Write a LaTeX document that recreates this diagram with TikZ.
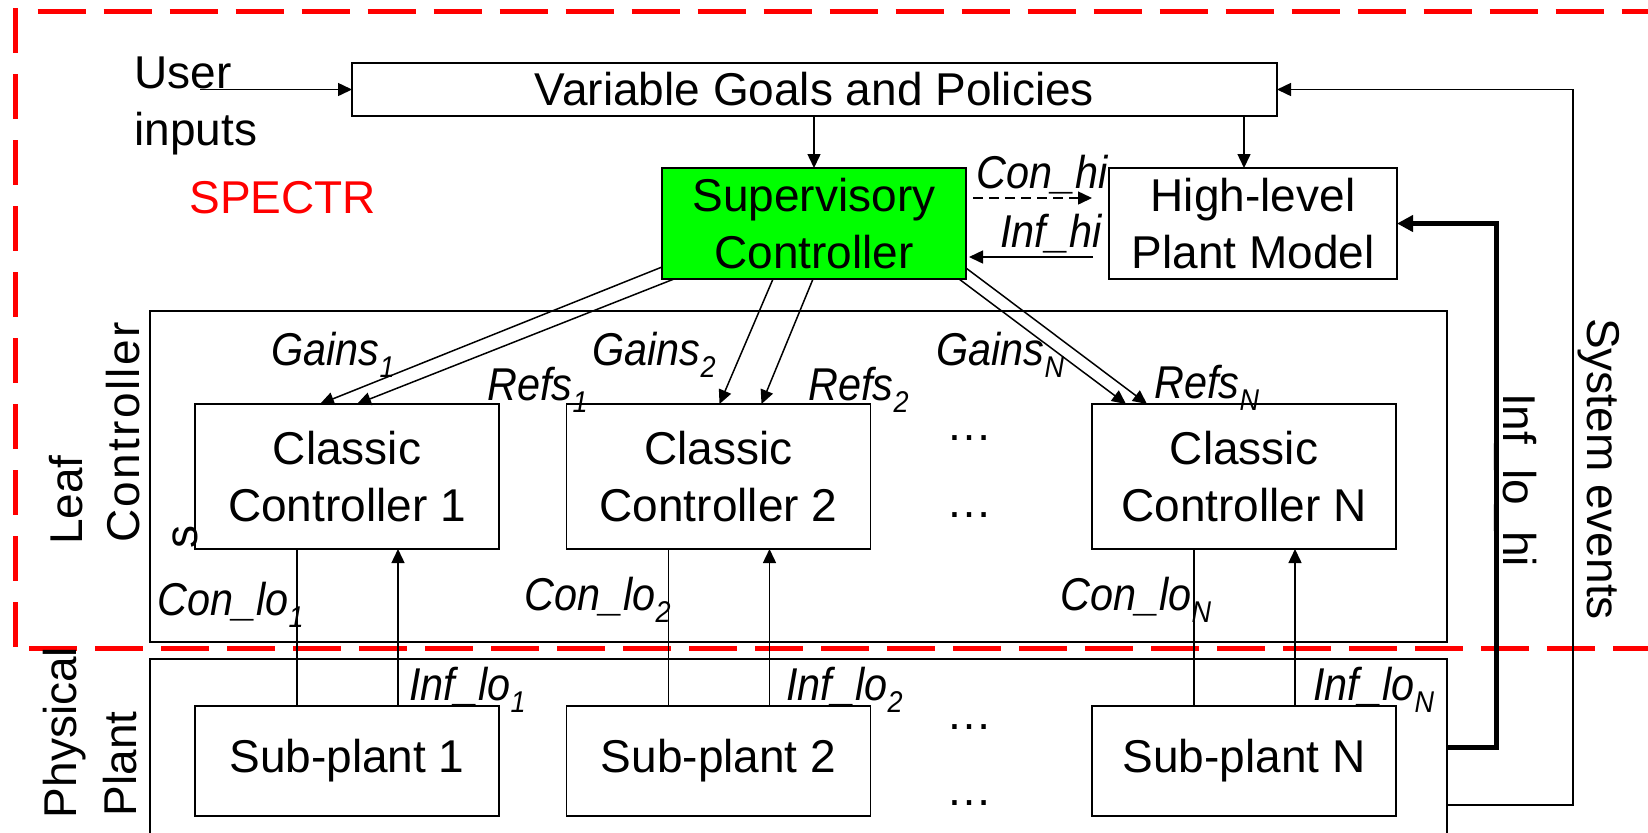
\documentclass[tikz,border=0pt]{standalone}
\usepackage{fontspec}
\setmainfont{Liberation Sans}[ItalicFeatures={FakeStretch=0.9}]
\newfontfamily\spacedfont{Liberation Sans}[LetterSpace=5]
\usetikzlibrary{arrows.meta,calc}
\definecolor{spgreen}{RGB}{0,255,0}
\definecolor{spred}{RGB}{255,0,0}
\newcommand\lsub[1]{\raisebox{-6pt}{\fontsize{15}{15}\selectfont #1}}
\begin{document}
\begin{tikzpicture}[x=0.5pt,y=-0.5pt,
  font=\fontsize{23}{28.5}\selectfont,
  box/.style={draw, line width=0.9pt, inner sep=0pt, outer sep=0pt, align=center},
  arr/.style={line width=0.75pt, -{Triangle[length=7pt,width=6.5pt]}},
  thickarr/.style={line width=2.5pt, -{Triangle[length=8pt,width=8pt]}},
  ln/.style={line width=0.75pt},
  lab/.style={font=\fontsize{23}{28.5}\selectfont\itshape, anchor=base west, inner sep=0pt},
  txt/.style={inner sep=0pt},
  frame/.style={draw=spred, line width=2.5pt}]
\useasboundingbox (0,0) rectangle (1648,832);

% red dashed SPECTR frame
\draw[frame, dash pattern=on 24pt off 9pt] (37.5,11) -- (1700,11);
\draw[frame, dash pattern=on 22.5pt off 10.5pt] (15,8) -- (15,648);
\draw[frame, dash pattern=on 24pt off 9pt] (29,648) -- (1700,648);

% boxes
\node[box, minimum width=462.5pt, minimum height=26.5pt] (vgp) at (814.5,89.5) {Variable Goals and Policies};
\node[box, fill=spgreen, minimum width=152pt, minimum height=55.5pt] (sup) at (814,223.5) {Supervisory\\Controller};
\node[box, minimum width=144pt, minimum height=55.5pt] (hl) at (1253,223.5) {High-level\\Plant Model};
\node[box, minimum width=648.5pt, minimum height=165.5pt] (leafbox) at (798.5,476.5) {};
\node[box, minimum width=648.5pt, minimum height=125pt] (physbox) at (798.5,784) {};
\node[box, minimum width=152pt, minimum height=72.5pt] (cc1) at (347,476.5) {Classic\\Controller 1};
\node[box, minimum width=152pt, minimum height=72.5pt] (cc2) at (718.5,476.5) {Classic\\Controller 2};
\node[box, minimum width=152pt, minimum height=72.5pt] (ccN) at (1244,476.5) {Classic\\Controller N};
\node[box, minimum width=152pt, minimum height=55pt] (sp1) at (347,761) {Sub-plant 1};
\node[box, minimum width=152pt, minimum height=55pt] (sp2) at (718.5,761) {Sub-plant 2};
\node[box, minimum width=152pt, minimum height=55pt] (spN) at (1244,761) {Sub-plant N};

% top connectors
\coordinate (userin) at (200,89.5);
\draw[arr] (userin) -- (vgp.west);
\draw[arr] (vgp.south -| sup.north) -- (sup.north);
\draw[arr] ($(vgp.south -| hl.north)+(-9,0)$) -- ($(hl.north)+(-9,0)$);
\draw[arr, dash pattern=on 5pt off 3pt] ($(sup.north east)+(7,30)$) -- ($(hl.north west)+(-17,30)$);
\draw[arr] ($(hl.north west)+(-16,89)$) -- ($(sup.north east)+(3,89)$);

% supervisory to classic controllers
\draw[arr] ($(sup.south west)+(0,-12)$) -- ($(cc1.north west)+(125,0)$);
\draw[arr] ($(sup.south west)+(12,0)$) -- ($(cc1.north west)+(162,0)$);
\draw[arr] ($(sup.south west)+(111,0)$) -- ($(cc2.north west)+(153,0)$);
\draw[arr] ($(sup.south west)+(151,0)$) -- ($(cc2.north west)+(195,0)$);
\draw[arr] ($(sup.south east)+(-7,0)$) -- ($(ccN.north west)+(34,0)$);
\draw[arr] ($(sup.south east)+(0,-11)$) -- ($(ccN.north west)+(55,0)$);

% controller <-> sub-plant
\foreach \c/\s in {cc1/sp1, cc2/sp2, ccN/spN}{
  \draw[ln] ($(\c.south west)+(102,0)$) -- ($(\s.north west)+(102,0)$);
  \draw[arr] ($(\s.north west)+(203,0)$) -- ($(\c.south west)+(203,0)$);
}

% feedback paths
\draw[thickarr] ($(physbox.north east)+(0,88)$) -- ++(49,0) |- (hl.east);
\draw[arr] ($(physbox.north east)+(0,146)$) -- ++(126,0) |- (vgp.east);

% plain texts
\node[txt, anchor=base west] (user1) at (134,88) {User};
\node[txt, anchor=base west] (user2) at (134,145) {inputs};
\node[txt, anchor=base west, text=spred] (spectr) at (189,213) {SPECTR};
\node[txt, rotate=90] (leaf) at (66,500) {Leaf};
\node[txt, rotate=90, font=\fontsize{23}{28.5}\spacedfont] (ctrl) at (123.5,432.5) {Controller};
\node[txt, rotate=90] (strays) at (185,537) {s};
\node[txt, rotate=90] (phys) at (65,732.5) {Physical};
\node[txt, rotate=90] (plant) at (120.5,764) {Plant};
\node[txt, rotate=-90] (sysev) at (1599,469) {System events};
\node[txt, rotate=-90] (inflohi) at (1516,480) {Inf\_lo\_hi};

% dots
\node[txt, anchor=base] (d1) at (969,440.5) {…};
\node[txt, anchor=base] (d2) at (969,517.5) {…};
\node[txt, anchor=base] (d3) at (969,729.5) {…};
\node[txt, anchor=base] (d4) at (969,805.5) {…};

% italic labels
\node[lab] (conhi) at (976,188) {Con\_hi};
\node[lab] (infhi) at (1000,247) {Inf\_hi};
\node[lab] (g1) at (271,365) {Gains\lsub{1}};
\node[lab] (r1) at (487,400) {Refs\lsub{1}};
\node[lab] (g2) at (592,365) {Gains\lsub{2}};
\node[lab] (r2) at (808,400) {Refs\lsub{2}};
\node[lab] (gN) at (936,365) {Gains\lsub{N}};
\node[lab] (rN) at (1154,398) {Refs\lsub{N}};
\node[lab] (cl1) at (157,615) {Con\_lo\lsub{1}};
\node[lab] (cl2) at (524,610) {Con\_lo\lsub{2}};
\node[lab] (clN) at (1060,610) {Con\_lo\lsub{N}};
\node[lab] (il1) at (409,700) {Inf\_lo\lsub{1}};
\node[lab] (il2) at (786,700) {Inf\_lo\lsub{2}};
\node[lab] (ilN) at (1313,700) {Inf\_lo\lsub{N}};
\end{tikzpicture}
\end{document}
